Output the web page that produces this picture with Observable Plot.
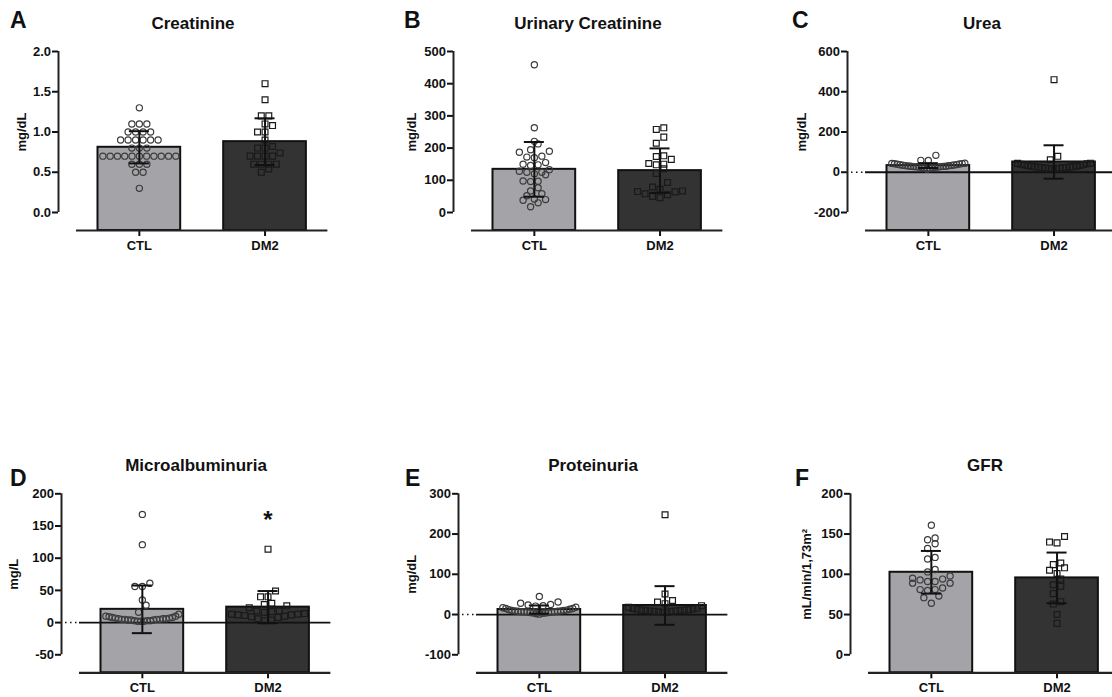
<!DOCTYPE html>
<html><head><meta charset="utf-8">
<script src="https://cdn.jsdelivr.net/npm/d3@7"></script>
<script src="https://cdn.jsdelivr.net/npm/@observablehq/plot@0.6"></script>
<style>
html,body{margin:0;padding:0;background:#fff;}
#fig{position:relative;width:1112px;height:697px;overflow:hidden;font-family:"Liberation Sans",Arial,sans-serif;color:#111;}
.panel{position:absolute;}
.title{position:absolute;font-weight:bold;font-size:17px;line-height:17px;white-space:nowrap;transform:translateX(-50%);}
.letter{position:absolute;font-weight:bold;font-size:23px;line-height:23px;}
svg g[aria-label$="tick"]{stroke-width:2px;}
</style></head><body><div id="fig"></div>
<script>
// ---------- data ----------
const groups = ["CTL", "DM2"];
const panelLetters = ["A", "B", "C", "D", "E", "F"];
const panelTitles = ["Creatinine", "Urinary Creatinine", "Urea", "Microalbuminuria", "Proteinuria", "GFR"];
const yLabels = ["mg/dL", "mg/dL", "mg/dL", "mg/L", "mg/dL", "mL/min/1,73m²"];
const yTicks = [
  [0, 0.5, 1, 1.5, 2],
  [0, 100, 200, 300, 400, 500],
  [-200, 0, 200, 400, 600],
  [-50, 0, 50, 100, 150, 200],
  [-100, 0, 100, 200, 300],
  [0, 50, 100, 150, 200]
];
const yTickDigits = [1, 0, 0, 0, 0, 0];
const groupMeans = [[0.81, 0.88], [134, 130], [33, 51], [20.6, 24], [12.5, 22.5], [102.5, 95.5]];
const groupSDs = [[0.20, 0.29], [85, 69], [12, 83], [37, 25], [10, 48], [26.5, 31.5]];

const creatinineCTL = [1.3, 1.1, 1.1, 1.1, 1.0, 1.0, 1.0, 1.0, 0.9, 0.9, 0.9, 0.9, 0.9, 0.9, 0.8, 0.8, 0.8,
  0.7, 0.7, 0.7, 0.7, 0.7, 0.7, 0.7, 0.7, 0.7, 0.7, 0.7, 0.6, 0.6, 0.6, 0.5, 0.5, 0.3];
const creatinineDM2 = [1.6, 1.4, 1.2, 1.2, 1.1, 1.08, 1.0, 1.0, 0.9, 0.82, 0.8, 0.8, 0.74, 0.7, 0.7, 0.7, 0.7,
  0.6, 0.6, 0.6, 0.6, 0.54, 0.5];
const uCreatinineCTL = [459, 263, 221, 213, 195, 190, 187, 175, 172, 170, 155, 150, 148, 146, 133, 128, 125, 125,
  120, 117, 98, 97, 96, 77, 67, 58, 52, 42, 40, 38, 30, 18];
const uCreatinineDM2 = [263, 258, 234, 215, 176, 174, 165, 152, 150, 148, 136, 121, 93, 79, 72, 67, 65, 64, 58, 55, 50, 46];
const ureaCTL = [84, 59, 58, 45, 44, 43, 42, 41, 40, 38, 37, 36, 35, 34, 33, 32, 31, 30, 30, 29, 28, 28, 27, 26, 26,
  25, 24, 23, 22, 20, 15];
const ureaDM2 = [460, 79, 62, 45, 44, 42, 40, 38, 36, 34, 32, 30, 29, 28, 27, 26, 25, 24, 23, 22, 21, 20, 19, 18, 17];
const microalbCTL = [168, 121, 61, 56, 56, 35, 27, 16, 13, 10, 10, 9, 8, 8, 7, 7, 6, 6, 6, 5, 5, 5, 5, 4, 4, 4, 3, 3, 3, 2, 2, 2];
const microalbDM2 = [114, 49, 40, 40, 30, 28, 26, 23, 18, 18, 17, 16, 14, 13, 13, 12, 12, 11, 10, 9, 8, 6, 4, 3];
const proteinCTL = [45, 31, 28, 25, 24, 22, 21, 18, 17, 15, 15, 13, 12, 11, 10, 10, 9, 9, 8, 8, 7, 7, 7, 6, 6, 5, 5, 4, 4, 3, 2, 1];
const proteinDM2 = [248, 51, 35, 31, 27, 22, 18, 16, 15, 14, 13, 12, 11, 11, 10, 10, 9, 9, 8, 8, 7, 6, 5];
const gfrCTL = [161, 145, 143, 138, 132, 121, 119, 106, 103, 98, 95, 94, 93, 91, 91, 89, 89, 83, 81, 81, 80, 73, 71, 64];
const gfrDM2 = [147, 140, 139, 114, 112, 108, 105, 101, 94, 87, 85, 76, 66, 63, 50, 39];
const significance = [{panel: "D", group: "DM2", label: "*"}];

const ctlSets = [creatinineCTL, uCreatinineCTL, ureaCTL, microalbCTL, proteinCTL, gfrCTL];
const dm2Sets = [creatinineDM2, uCreatinineDM2, ureaDM2, microalbDM2, proteinDM2, gfrDM2];

// ---------- layout / style ----------
const axisX = [58, 453, 847, 61, 458, 850];
const letterLeft = [10, 404, 792, 10, 405, 795];
const yLabelOffset = [41.5, 46.5, 50.5, 52.5, 51.5, 49];
const rowTop = [0, 440], rowTick = [51, 493.3];
const titleBaseline = [29.5, 471], letterBaseline = [28.3, 486];
const U = 125.7, GX = 18, TS = 161, GY = 18, ML = 58, MR = 6;
const DOT = 7.5, SPAN = 73, CAP = 10, BAR_INSET = 21.5;
const barFill = ["#a3a3a8", "#333333"];
const FONT = "'Liberation Sans', Arial, sans-serif";
const xLo = -GX / U;

// GraphPad-like row scatter: points close in value share a row, spread horizontally
function rowOffsets(values, k) {
  const idx = values.map((v, i) => i).sort((a, b) => values[a] - values[b]);
  const rows = [];
  let cur = null;
  for (const i of idx) {
    if (!cur || (values[i] - values[cur[0]]) * k >= DOT) { cur = [i]; rows.push(cur); }
    else cur.push(i);
  }
  const off = new Array(values.length);
  for (const row of rows) {
    const n = row.length;
    const step = n > 1 ? Math.min(DOT, SPAN / (n - 1)) : 0;
    const slots = d3.range(n).map(j => (j - (n - 1) / 2) * step)
      .sort((a, b) => Math.abs(a) - Math.abs(b) || a - b);
    row.forEach((i, j) => off[i] = slots[j]);
  }
  return off;
}

const fig = document.getElementById("fig");

panelLetters.forEach((letter, pi) => {
  const row = pi < 3 ? 0 : 1;
  const ticks = yTicks[pi];
  const lo = ticks[0], hi = ticks[ticks.length - 1];
  const yMin = lo - GY * (hi - lo) / TS;
  const k = TS / (hi - lo);
  const summary = groups.map((g, i) => ({g, i, mean: groupMeans[pi][i], sd: groupSDs[pi][i]}));
  const ctl = ctlSets[pi], dm2 = dm2Sets[pi];
  const offC = rowOffsets(ctl, k), offD = rowOffsets(dm2, k);
  const ptsC = ctl.map((v, j) => ({v, x: 0.5 + offC[j] / U}));
  const ptsD = dm2.map((v, j) => ({v, x: 1.5 + offD[j] / U}));
  const marginTop = rowTick[row] - rowTop[row];
  const marginBottom = row === 0 ? 30 : 25;
  const height = marginTop + TS + GY + marginBottom;
  const width = ML + (2 - xLo) * U + MR;
  const hasZero = lo < 0;
  const sig = significance.filter(s => s.panel === letter);

  const marks = [
    ...groups.map((g, i) => Plot.rect([summary[i]], {
      x1: d => d.i, x2: d => d.i + 1, y1: () => yMin, y2: d => d.mean,
      fill: barFill[i], stroke: "#111", strokeWidth: 2, insetLeft: BAR_INSET, insetRight: BAR_INSET
    })),
    hasZero ? Plot.ruleY([0], {x1: () => 0, x2: () => 2, stroke: "#111", strokeWidth: 1.8}) : null,
    hasZero ? Plot.ruleY([0], {x1: () => xLo, x2: () => 0, stroke: "#111", strokeWidth: 1.5, strokeDasharray: "1.5,3.5", strokeDashoffset: -4}) : null,
    Plot.ruleY([yMin], {x1: () => 0, x2: () => 2, stroke: "#222", strokeWidth: 2.2}),
    Plot.ruleX([xLo], {y1: () => lo, y2: () => hi, stroke: "#222", strokeWidth: 2}),
    Plot.dot(ptsC, {x: "x", y: "v", r: 3.1, symbol: "circle", fill: "none", stroke: "#3c3c3c", strokeWidth: 1.2}),
    Plot.dot(ptsD, {x: "x", y: "v", r: 3.3, symbol: "square", fill: "none", stroke: "#1a1a1a", strokeWidth: 1.2}),
    Plot.ruleX(summary, {x: d => d.i + 0.5, y1: d => d.mean - d.sd, y2: d => d.mean + d.sd, stroke: "#111", strokeWidth: 2}),
    Plot.ruleY(summary, {y: d => d.mean + d.sd, x1: d => d.i + 0.5 - CAP / U, x2: d => d.i + 0.5 + CAP / U, stroke: "#111", strokeWidth: 2}),
    Plot.ruleY(summary, {y: d => d.mean - d.sd, x1: d => d.i + 0.5 - CAP / U, x2: d => d.i + 0.5 + CAP / U, stroke: "#111", strokeWidth: 2}),
    Plot.text([yLabels[pi]], {
      x: () => xLo, y: () => (lo + hi) / 2, text: d => d, rotate: -90, dx: -yLabelOffset[pi],
      lineAnchor: "top", textAnchor: "middle", fontSize: 13, fontWeight: "bold", fill: "#111"
    }),
    sig.length ? Plot.text(sig, {
      x: d => groups.indexOf(d.group) + 0.5, frameAnchor: "top", dy: 17, text: "label",
      fontSize: 24, fontWeight: "bold", fill: "#111"
    }) : null
  ].filter(Boolean);

  const chart = Plot.plot({
    width, height, marginLeft: ML, marginRight: MR, marginTop, marginBottom,
    style: {fontFamily: FONT, fontSize: "13px", fontWeight: "bold", color: "#111",
      background: "transparent", overflow: "visible", maxWidth: "none"},
    x: {domain: [xLo, 2], ticks: [0.5, 1.5], tickFormat: d => groups[Math.floor(d)],
      tickSize: 6, tickPadding: 4, label: null},
    y: {domain: [yMin, hi], ticks, tickFormat: d => d.toFixed(yTickDigits[pi]),
      tickSize: 6, tickPadding: 1.5, label: null},
    marks
  });
  const div = document.createElement("div");
  div.className = "panel";
  div.style.left = (axisX[pi] - ML) + "px";
  div.style.top = rowTop[row] + "px";
  div.style.width = width + "px";
  div.appendChild(chart);
  fig.appendChild(div);

  const t = document.createElement("div");
  t.className = "title";
  t.textContent = panelTitles[pi];
  t.style.left = (axisX[pi] + 135) + "px";
  t.style.top = (titleBaseline[row] - 0.846 * 17) + "px";
  fig.appendChild(t);

  const l = document.createElement("div");
  l.className = "letter";
  l.textContent = letter;
  l.style.left = letterLeft[pi] + "px";
  l.style.top = (letterBaseline[row] - 19.47) + "px";
  fig.appendChild(l);
});
</script></body></html>
